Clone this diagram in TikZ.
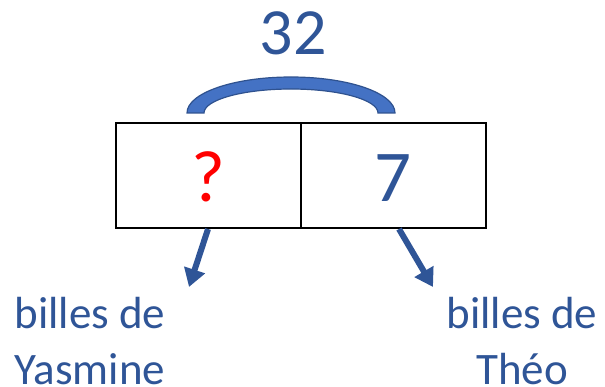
\documentclass[tikz,border=0pt]{standalone}
\usepackage{fontspec}
\setmainfont{Carlito}
\usetikzlibrary{arrows.meta}
\definecolor{txtblue}{HTML}{2F5597}
\definecolor{arcfill}{HTML}{4472C4}
\definecolor{arcline}{HTML}{2F528F}
\tikzset{
  cell/.style={draw=black, line width=2pt, minimum width=185pt, minimum height=105pt, inner sep=0pt},
  lbl/.style={text=txtblue, font=\fontsize{45}{56}\selectfont, align=center, inner sep=0pt},
  pointer/.style={draw=txtblue, line width=6pt, -{Triangle[width=21pt,length=18pt]}},
}
\begin{document}
\begin{tikzpicture}[x=1pt,y=1pt]
\useasboundingbox (0,0) rectangle (605,-387);
% cells
\node[cell] (yas) at (208.5,-175.5) {};
\node[cell] (theo) at (393.5,-175.5) {};
\node[anchor=base, text=red, font=\fontsize{73}{80}\selectfont, inner sep=0pt] (q) at (208,-202) {?};
\node[anchor=base, text=txtblue, font=\fontsize{73}{80}\selectfont, inner sep=0pt] (seven) at (393,-202) {7};
% total
\node[anchor=base, text=txtblue, font=\fontsize{66}{72}\selectfont, inner sep=0pt] (total) at (293,-55) {32};
% brace arc
\fill[arcfill, draw=arcline, line width=1.2pt]
  (187,-113) arc[start angle=180, end angle=0, x radius=104, y radius=36]
  -- (378,-113) arc[start angle=0, end angle=180, x radius=87, y radius=24] -- cycle;
% labels
\node[lbl, anchor=base] (ly) at (90,-384) {billes de\\Yasmine};
\node[lbl, anchor=base] (lt) at (522,-384) {billes de\\Théo};
% arrows
\coordinate (ytip) at (189,-287);
\coordinate (ttip) at (433,-287);
\draw[pointer] ([xshift=-0.5pt]yas.south) -- (ytip);
\draw[pointer] ([xshift=5.5pt]theo.south) -- (ttip);
\end{tikzpicture}
\end{document}
